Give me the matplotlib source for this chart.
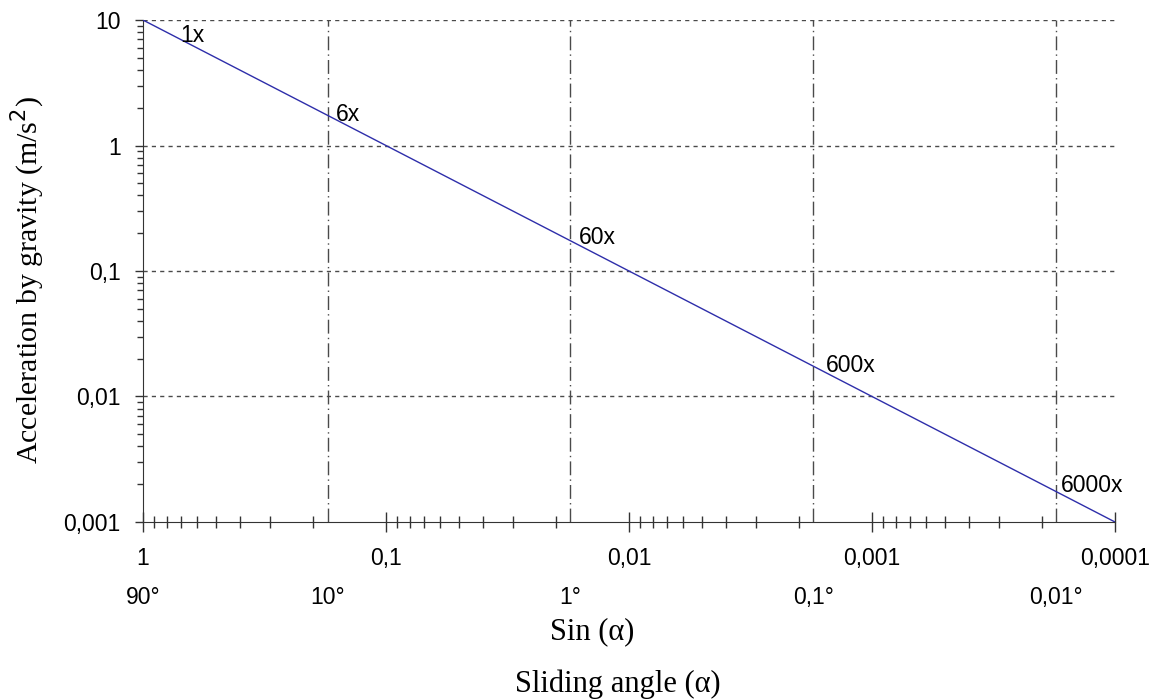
import matplotlib
matplotlib.use("Agg")
import matplotlib.pyplot as plt
from matplotlib.ticker import FixedLocator, LogLocator, NullFormatter
import numpy as np

# acceleration a = g * sin(alpha), g ~ 10 m/s^2
sin_alpha = [1.0, 0.0001]
accel = [10.0, 0.001]

x_ticks = [1, 0.1, 0.01, 0.001, 0.0001]
x_tick_labels = ["1", "0,1", "0,01", "0,001", "0,0001"]
y_ticks = [0.001, 0.01, 0.1, 1, 10]
y_tick_labels = ["0,001", "0,01", "0,1", "1", "10"]

angles = [90, 10, 1, 0.1, 0.01]
angle_labels = ["90°", "10°", "1°", "0,1°", "0,01°"]
vline_angles = [10, 1, 0.1, 0.01]
hlines = [10, 1, 0.1, 0.01]

factor_labels = ["1x", "6x", "60x", "600x", "6000x"]
factor_x = [0.704, 0.1736, 0.01745, 0.001745, 0.0001745]
factor_y = [7.46, 1.736, 0.1745, 0.01745, 0.001745]
factor_offsets = [(0, 0), (6, 0.5), (6.5, 2), (9, 0.5), (3.5, 4.5)]

sans = "Liberation Sans"
serif = "Liberation Serif"

fig = plt.figure(figsize=(11.54, 7.0), dpi=100)
ax = fig.add_axes([0.1239, 0.2543, 0.8423, 0.7171])

ax.set_xscale("log")
ax.set_yscale("log")
ax.set_xlim(1, 0.0001)
ax.set_ylim(0.001, 10)

# grid
for h in hlines:
    ax.axhline(h, color="#4a4a4a", lw=1, ls=(0, (3, 3)), zorder=1)
for a in vline_angles:
    ax.axvline(np.sin(np.radians(a)), color="#4a4a4a", lw=1,
               ls=(0, (10, 3, 1, 3)), zorder=1)

ax.plot(sin_alpha, accel, color="#2e2eaa", lw=1, zorder=3)

for lab, fx, fy, off in zip(factor_labels, factor_x, factor_y, factor_offsets):
    ax.annotate(lab, xy=(fx, fy), xytext=off, textcoords="offset points",
                ha="left", va="center", fontsize=16.5, family=sans)

# axes look
for s in ["top", "right"]:
    ax.spines[s].set_visible(False)
ax.spines["left"].set_color("#333333")
ax.spines["bottom"].set_color("#333333")

ax.xaxis.set_major_locator(FixedLocator(x_ticks))
ax.xaxis.set_ticklabels(x_tick_labels)
ax.xaxis.set_minor_locator(LogLocator(base=10, subs=np.arange(2, 10)))
ax.xaxis.set_minor_formatter(NullFormatter())
ax.yaxis.set_major_locator(FixedLocator(y_ticks))
ax.yaxis.set_ticklabels(y_tick_labels)
ax.yaxis.set_minor_locator(LogLocator(base=10, subs=np.arange(2, 10)))
ax.yaxis.set_minor_formatter(NullFormatter())

ax.tick_params(axis="x", which="major", direction="inout", length=14, width=1,
               pad=11, labelsize=16.5, color="#333333")
ax.tick_params(axis="x", which="minor", direction="inout", length=8, width=1,
               color="#333333")
ax.tick_params(axis="y", which="major", direction="out", length=6, width=1,
               pad=10, labelsize=16.5, color="#333333")
ax.tick_params(axis="y", which="minor", direction="out", length=4.5, width=1,
               color="#333333")
for t in ax.get_xticklabels() + ax.get_yticklabels():
    t.set_family(sans)

# degree labels under the sin ticks
for a, lab in zip(angles, angle_labels):
    ax.text(np.sin(np.radians(a)), -0.151, lab, transform=ax.get_xaxis_transform(),
            ha="center", va="center", fontsize=16.5, family=sans)

fig.text(0.5134, 0.097, "Sin (α)", ha="center", va="center", fontsize=22, family=serif)
fig.text(0.535, 0.023, "Sliding angle (α)", ha="center", va="center", fontsize=22,
         family=serif)
fig.text(0.024, 0.6, "Acceleration by gravity (m/s$^2$)", rotation=90,
         ha="center", va="center", fontsize=21.5, family=serif)

fig.savefig("out.png", dpi=100)
